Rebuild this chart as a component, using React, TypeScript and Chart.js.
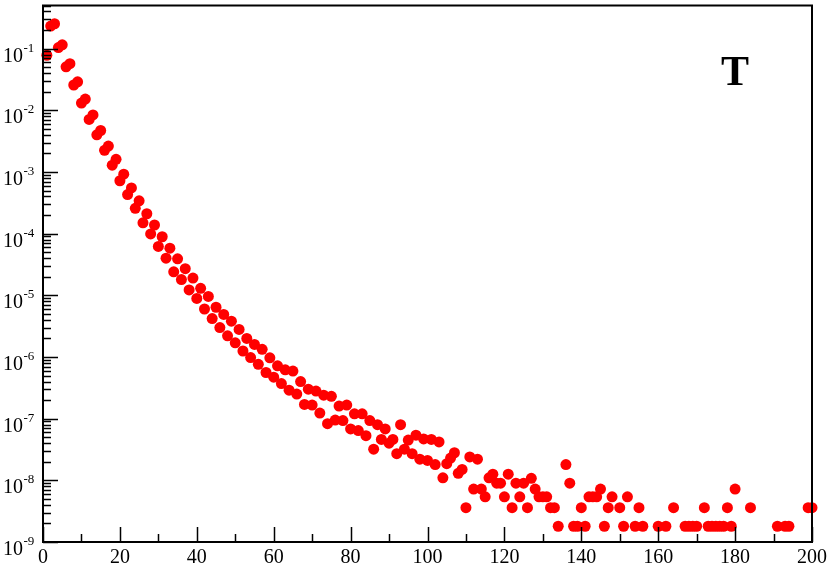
import React, { useEffect, useRef } from "react";
import { Chart, registerables } from "chart.js";

Chart.register(...registerables);

// ---- data (x = index, y = value) ----
const xValues: number[] = [
  1, 2, 3, 4, 5, 6, 7, 8, 9, 10, 11, 12, 13, 14, 15, 16, 17, 18, 19, 20,
  21, 22, 23, 24, 25, 26, 27, 28, 29, 30, 31, 32, 33, 34, 35, 36, 37, 38, 39, 40,
  41, 42, 43, 44, 45, 46, 47, 48, 49, 50, 51, 52, 53, 54, 55, 56, 57, 58, 59, 60,
  61, 62, 63, 64, 65, 66, 67, 68, 69, 70, 71, 72, 73, 74, 75, 76, 77, 78, 79, 80,
  81, 82, 83, 84, 85, 86, 87, 88, 89, 90, 91, 92, 93, 94, 95, 96, 97, 98, 99, 100,
  101, 102, 103, 104, 105, 106, 107, 108, 109, 110, 111, 112, 113, 114, 115, 116, 117, 118, 119, 120,
  121, 122, 123, 124, 125, 126, 127, 128, 129, 130, 131, 132, 133, 134, 136, 137, 138, 139, 140,
  141, 142, 143, 144, 145, 146, 147, 148, 150, 151, 152, 154, 155, 156, 160,
  162, 164, 167, 168, 169, 170, 172, 173, 174, 175, 176, 177, 178, 179, 180,
  184, 191, 193, 194, 199, 200,
];

const yValues: number[] = [
  0.078, 0.232, 0.253, 0.104, 0.115, 0.0507, 0.057, 0.0257, 0.029, 0.0131,
  0.0152, 0.0071, 0.0084, 0.004, 0.0047, 0.00224, 0.00263, 0.00129, 0.0016, 7.2e-4,
  9.2e-4, 4.3e-4, 5.5e-4, 2.57e-4, 3.4e-4, 1.5e-4, 2.1e-4, 9.9e-5, 1.38e-4, 6.2e-5,
  8.9e-5, 4.0e-5, 5.8e-5, 2.4e-5, 3.9e-5, 1.8e-5, 2.7e-5, 1.22e-5, 1.9e-5, 8.9e-6,
  1.3e-5, 6.0e-6, 9.6e-6, 4.2e-6, 6.4e-6, 3.0e-6, 4.9e-6, 2.2e-6, 3.8e-6, 1.7e-6,
  2.8e-6, 1.25e-6, 2.0e-6, 9.8e-7, 1.6e-6, 7.6e-7, 1.33e-6, 5.6e-7, 9.7e-7, 4.7e-7,
  7.2e-7, 3.7e-7, 6.2e-7, 2.9e-7, 5.9e-7, 2.5e-7, 4.0e-7, 1.7e-7, 3.0e-7, 1.66e-7,
  2.8e-7, 1.23e-7, 2.4e-7, 8.3e-8, 2.3e-7, 9.5e-8, 1.6e-7, 9.3e-8, 1.66e-7, 6.8e-8,
  1.2e-7, 6.4e-8, 1.2e-7, 5.3e-8, 9.3e-8, 3.2e-8, 8.0e-8, 4.6e-8, 6.8e-8, 4.0e-8,
  4.6e-8, 2.7e-8, 8.0e-8, 3.2e-8, 4.5e-8, 2.7e-8, 5.4e-8, 2.2e-8, 4.7e-8, 2.1e-8,
  4.6e-8, 1.8e-8, 4.2e-8, 1.1e-8, 1.86e-8, 2.3e-8, 2.8e-8, 1.3e-8, 1.5e-8, 3.6e-9,
  2.4e-8, 7.2e-9, 2.2e-8, 7.2e-9, 5.4e-9, 1.1e-8, 1.26e-8, 9e-9, 9e-9, 5.4e-9,
  1.26e-8, 3.6e-9, 9e-9, 5.4e-9, 9e-9, 3.6e-9, 1.08e-8, 7.2e-9, 5.4e-9, 5.4e-9,
  5.4e-9, 3.6e-9, 3.6e-9, 1.8e-9, 1.8e-8, 9e-9, 1.8e-9, 1.8e-9, 3.6e-9,
  1.8e-9, 5.4e-9, 5.4e-9, 5.4e-9, 7.2e-9, 1.8e-9, 3.6e-9, 5.4e-9, 3.6e-9, 1.8e-9,
  5.4e-9, 1.8e-9, 3.6e-9, 1.8e-9, 1.8e-9,
  1.8e-9, 3.6e-9, 1.8e-9, 1.8e-9, 1.8e-9, 1.8e-9, 3.6e-9, 1.8e-9, 1.8e-9, 1.8e-9,
  1.8e-9, 1.8e-9, 3.6e-9, 1.8e-9, 7.2e-9,
  3.6e-9, 1.8e-9, 1.8e-9, 1.8e-9, 3.6e-9, 3.6e-9,
];

const xMajorTicks: number[] = [0, 20, 40, 60, 80, 100, 120, 140, 160, 180, 200];
const xMinorTicks: number[] = [10, 30, 50, 70, 90, 110, 130, 150, 170, 190];
const xTickLabels: string[] = ["0", "20", "40", "60", "80", "100", "120", "140", "160", "180", "200"];
const yDecadeExponents: number[] = [-9, -8, -7, -6, -5, -4, -3, -2, -1];
const yTickLabelBase = "10";
const panelLabel = "T";

const X_MIN = 0;
const X_MAX = 200;
const Y_MIN = 1e-9;
const Y_MAX = 0.5;

const SERIF = '"Liberation Serif", "Times New Roman", serif';

const axesPlugin = {
  id: "graceAxes",
  afterDatasetsDraw(chart: any) {
    const { ctx, chartArea: a } = chart;
    const xs = chart.scales.x;
    const ys = chart.scales.y;
    ctx.save();
    ctx.strokeStyle = "#000";
    ctx.fillStyle = "#000";

    // frame
    ctx.lineWidth = 2;
    ctx.strokeRect(a.left, a.top, a.right - a.left, a.bottom - a.top);

    ctx.lineWidth = 1.5;
    const MAJ = 15;
    const MIN = 8;

    // x ticks
    ctx.beginPath();
    for (const v of xMajorTicks) {
      const px = Math.round(xs.getPixelForValue(v)) + 0.5;
      ctx.moveTo(px, a.bottom);
      ctx.lineTo(px, a.bottom - MAJ);
    }
    for (const v of xMinorTicks) {
      const px = Math.round(xs.getPixelForValue(v)) + 0.5;
      ctx.moveTo(px, a.bottom);
      ctx.lineTo(px, a.bottom - MIN);
    }
    // y ticks
    for (const e of yDecadeExponents) {
      const py = Math.round(ys.getPixelForValue(Math.pow(10, e))) + 0.5;
      ctx.moveTo(a.left, py);
      ctx.lineTo(a.left + MAJ, py);
      for (let m = 2; m <= 9; m++) {
        const v = m * Math.pow(10, e);
        if (v > Y_MAX * 1.0001) break;
        const pm = Math.round(ys.getPixelForValue(v)) + 0.5;
        ctx.moveTo(a.left, pm);
        ctx.lineTo(a.left + MIN, pm);
      }
    }
    ctx.stroke();

    // x labels
    ctx.font = `20px ${SERIF}`;
    ctx.textAlign = "center";
    ctx.textBaseline = "alphabetic";
    xMajorTicks.forEach((v, i) => {
      const px = xs.getPixelForValue(v);
      ctx.fillText(xTickLabels[i], px, a.bottom + 21);
    });

    // y labels: 10^e
    for (const e of yDecadeExponents) {
      const py = ys.getPixelForValue(Math.pow(10, e));
      ctx.font = `20px ${SERIF}`;
      ctx.textAlign = "left";
      ctx.fillText(yTickLabelBase, 3, py + 13);
      const w = ctx.measureText(yTickLabelBase).width;
      ctx.font = `13px ${SERIF}`;
      ctx.fillText(String(e), 3 + w + 0.5, py + 3);
    }

    // panel label
    ctx.font = `bold 42px ${SERIF}`;
    ctx.textAlign = "center";
    ctx.fillText(panelLabel, 735, 85);

    ctx.restore();
  },
};

export default function App() {
  const canvasRef = useRef<HTMLCanvasElement | null>(null);

  useEffect(() => {
    document.body.style.margin = "0";
    const canvas = canvasRef.current;
    if (!canvas) return;
    const chart = new Chart(canvas, {
      type: "scatter",
      data: {
        datasets: [
          {
            data: xValues.map((x, i) => ({ x, y: yValues[i] })),
            backgroundColor: "#ff0000",
            borderWidth: 0,
            pointRadius: 5.5,
            pointHoverRadius: 5.5,
            clip: false as any,
          },
        ],
      },
      options: {
        animation: false,
        responsive: false,
        events: [],
        layout: { padding: { left: 43, right: 18, top: 3, bottom: 25 } },
        plugins: { legend: { display: false }, tooltip: { enabled: false } },
        scales: {
          x: { type: "linear", min: X_MIN, max: X_MAX, display: false },
          y: { type: "logarithmic", min: Y_MIN, max: Y_MAX, display: false },
        },
      },
      plugins: [axesPlugin],
    });
    return () => chart.destroy();
  }, []);

  return (
    <div style={{ width: 830, height: 567, background: "#fff" }}>
      <canvas ref={canvasRef} width={830} height={567} style={{ display: "block" }} />
    </div>
  );
}
